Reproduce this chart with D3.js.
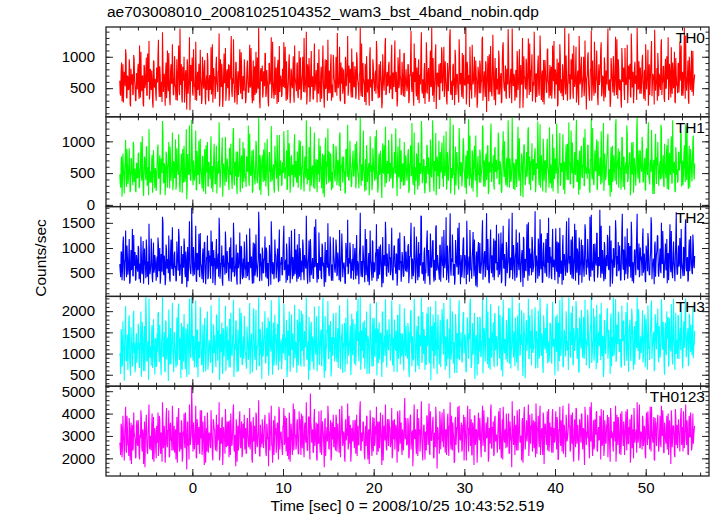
<!DOCTYPE html>
<html><head><meta charset="utf-8">
<script src="https://cdn.jsdelivr.net/npm/d3@7"></script>
<style>
html,body{margin:0;padding:0;background:#fff;}
text{font-family:"Liberation Sans",Arial,Helvetica,sans-serif;fill:#000;}
</style></head>
<body>
<svg id="chart" width="717" height="516"></svg>
<script>
const titleText = "ae703008010_20081025104352_wam3_bst_4band_nobin.qdp";
const xLabel = "Time [sec] 0 = 2008/10/25 10:43:52.519";
const yLabel = "Counts/sec";
const bandNames = ["TH0","TH1","TH2","TH3","TH0123"];
const bandColors = ["#ff0000","#00ff00","#0000ff","#00ffff","#ff00ff"];
const timeStart = -8, timeEnd = 55.4;
const xMajorTicks = [0,10,20,30,40,50];
const xMinorTicks = d3.range(-8, 57, 2);

const yDomains = [[44,1474],[-27,1386],[38,1823],[230,2348],[1210,5223]];
const yMajorTicks = [[500,1000],[0,500,1000],[500,1000,1500],[500,1000,1500,2000],[2000,3000,4000,5000]];
const yMinorTicks = [d3.range(100,1500,100), d3.range(0,1400,100), d3.range(100,1900,100), d3.range(300,2400,100), d3.range(1400,5300,200)];

// Each band: samples A (even bins) and B (odd bins), read as pairs in time order.
const th0A = [620,380,910,450,270,760,530,1020,340,680,480,850,210,590,720,410,960,520,300,640,
780,440,1180,350,560,690,250,870,500,730,390,1050,600,320,810,470,660,190,920,540,
410,830,590,1270,360,700,480,280,940,620,530,760,340,1100,450,650,230,880,570,720,
390,1010,510,640,300,790,450,1450,560,350,840,620,270,730,490,960,410,580,150,870,
660,430,1120,520,310,750,600,470,890,380,690,250,1000,540,820,360,610,470,930,290,
710,560,400,1200,480,650,330,870,590,440,780,210,960,520,680,370,1050,610,300,740,
500,880,420,640,1330,360,570,730,270,910,480,620,390,810,540,1070,330,690,460,760,
260,600,940,430,720,510,1140,380,660,300,850,570,420,990,490,700,180,820,610,350,
770,530,1060,410,640,290,890,560,720,340,1240,470,610,390,830,250,950,580,440,700,
360,810,520,670,1160,300,590,450,920,630,380,760,500,1010,270,680,540,860,410,620,
480,990,350,720,570,1300,430,650,240,880,510,740,390,1090,600,320,810,460,680,530,
900,410,620,280,840,560,1180,370,700,490,950,300,630,780,420,1040,540,350,870,610,
440,720,1380,500,640,330,910,570,410,800,260,1000,530,690,380,860,620,470,1130,350,
680,520,790,400,970,590,310,740,480,1210,360,650,540,890,230,760,600,430,1020,510,
640,300,870,560,720,410,1090,490,620,350,930,580,270,810,460,1170,390,700,530,860,
420,660,980,340,750,520,1260,440,600,310,840,570,700,390,920,480,1040,360,650,560,
530,870,310,690,1410,440,760,220,630,980,370,580,820,260,710,1090,480,640,340,900,
590,1230,410,750,280,860,520,1460,380,670,490,1020,170,740,560,880,320,610,1150,450,
700,360,930,550,240,800,640,1320,430,570,310,890,660,1110,390,720,500,270,960,610,
480,1060,330,680,540,1470,410,790,600,200,850,470,1190,560,720,350,940,620,280,760,
420,870,590,1280,300,660,510,930,120,710,580,1040,440,760,370,1350,520,640,230,820,
650,400,980,530,740,290,1170,610,450,860,330,700,1440,490,580,810,260,920,540,680,
380,760,1090,470,620,180,870,560,1300,410,690,520,970,340,750,600,1210,440,810,290,
600,1400,520,730,360,890,470,640,1060,310,780,550,240,950,620,430,1130,570,700,380,
840,490,670,1250,330,720,580,210,910,460,1020,610,370,790,530,1460,400,660,300,880,
570,320,960,640,450,1180,520,780,270,690,410,1330,560,840,350,620,1000,480,730,160,
690,1070,400,580,820,300,940,530,1240,420,660,750,230,880,610,1120,370,700,510,990,
350,780,560,1450,460,640,290,870,600,1010,380,720,540,1280,330,810,470,600,190,930,
620,470,1140,550,700,260,860,640,390,1370,510,760,430,920,580,310,1050,490,680,830,
410,940,600,330,790,1200,480,650,220,880,560,1020,370,730,640,1430,460,570,300,870,
730,540,1160,390,610,850,280,970,520,690,1310,440,780,350,600,910,500,1080,260,720,
560,890,430,1240,620,380,760,510,1460,330,680,590,940,250,820,470,1100,600,380,640];
const th0B = [410,760,290,880,530,640,1120,350,700,470,960,250,810,560,390,1030,610,300,740,480,
890,330,620,1080,450,700,210,830,560,990,380,670,1250,420,590,780,270,940,510,650,
300,710,1020,480,850,360,600,1390,440,730,220,910,520,680,1060,330,770,590,1200,400,
720,540,310,960,620,1180,390,560,880,270,650,1000,430,790,160,870,550,1310,470,610,
990,380,680,520,1240,300,760,610,410,1110,580,330,840,490,950,240,700,1060,360,630,
470,1150,560,270,820,690,400,1000,530,760,1370,340,610,890,200,720,580,1140,430,800,
610,300,870,1030,450,660,1280,380,520,910,240,770,600,1120,410,850,330,680,960,500,
350,820,590,440,1190,530,710,260,940,630,390,1080,490,560,1460,300,760,620,860,430,
680,1050,360,790,540,210,900,610,1310,450,620,330,1000,720,480,850,280,1170,580,640,
400,720,1230,500,660,930,320,580,1040,260,810,540,700,380,1180,610,450,910,340,1090,
850,310,640,1000,440,740,560,1400,390,620,980,280,830,520,690,340,1210,560,790,270,
560,1120,480,700,330,880,610,190,960,520,750,1270,420,640,880,300,560,1030,650,440,
1000,380,780,560,1160,290,690,830,500,610,250,940,720,1330,460,590,810,350,670,920,
520,850,330,1070,640,480,720,1460,370,560,900,610,280,790,1010,430,640,220,1150,590,
300,960,620,450,780,1250,520,340,880,600,730,180,1040,560,690,1300,410,760,560,920,
700,480,1190,330,650,900,560,760,210,990,500,1120,640,430,710,370,1060,520,800,450,
880,260,720,1010,540,680,380,1210,600,450,830,310,960,700,560,1390,410,620,770,250,
430,1000,600,820,350,1100,530,690,980,280,640,1200,470,740,520,320,900,580,1050,670,
1160,520,680,310,900,450,780,1440,390,620,850,540,230,990,610,720,400,1280,560,740,
360,790,1030,560,640,240,920,570,710,1160,480,330,860,620,1000,450,700,190,840,590,
940,420,610,1320,500,770,360,880,540,1010,290,650,1170,430,720,850,310,980,600,480,
620,1100,400,690,260,930,1230,510,630,380,810,560,1060,340,690,480,1450,540,730,300,
790,350,950,590,1120,430,570,820,190,1010,660,480,900,620,1290,390,560,760,1040,450,
540,890,270,730,640,1020,380,1340,500,680,280,950,570,760,430,1110,610,340,870,710,
330,1180,610,480,800,560,970,250,700,1200,420,640,880,310,750,540,1020,460,600,1370,
720,400,850,1050,330,690,580,1160,440,780,230,920,610,1000,490,710,370,1260,560,660,
1010,560,300,790,1420,470,640,380,930,600,1100,350,700,550,820,1230,420,680,290,880,
460,740,1080,520,610,200,980,660,430,850,570,1320,390,720,960,510,640,310,1140,600,
830,310,680,560,1190,470,740,890,350,1050,620,260,810,570,700,1460,480,930,410,650,
590,1030,440,760,300,900,630,1110,510,390,780,1250,560,680,240,970,600,820,1060,370,
680,470,1280,580,850,350,720,490,1010,640,310,890,540,1150,410,760,610,290,980,540,
420,900,610,740,1180,520,380,860,640,1340,460,700,320,1000,590,800,440,1090,560,720];

const th1A = [480,270,760,390,560,180,690,420,880,330,610,510,240,730,450,990,360,570,200,650,
430,820,310,600,470,1080,280,540,710,390,920,460,150,680,520,350,790,410,620,260,
540,360,870,450,620,160,730,500,1150,340,580,410,800,270,660,480,920,380,550,230,
690,420,1030,310,590,470,760,200,640,510,880,350,560,430,1190,290,620,480,730,380,
1340,500,700,380,560,240,850,470,1010,330,640,450,760,210,590,420,940,510,300,680,
520,840,260,610,440,960,330,700,180,570,490,820,370,650,1060,410,540,300,770,460,
620,350,900,470,560,250,1120,390,680,510,310,840,440,600,200,730,520,990,360,580,
410,760,540,1250,300,630,470,850,220,690,400,570,930,340,620,480,780,160,660,510,
870,380,590,450,1040,270,710,520,360,820,440,640,190,750,490,1100,330,600,460,700,
300,670,500,890,410,580,240,1180,450,620,370,780,520,280,950,430,690,350,560,800,
460,1000,330,640,510,210,760,420,870,560,390,680,1230,300,590,470,820,250,650,410,
710,490,360,930,540,620,180,780,450,1060,320,600,480,840,370,690,520,260,910,430,
560,820,400,670,290,1140,480,610,350,760,520,200,880,440,630,390,1010,540,310,720,
450,590,960,340,700,480,260,830,510,640,380,1170,420,570,230,780,490,660,360,890,
620,310,740,500,1080,400,560,190,690,470,850,350,620,520,940,280,710,440,580,1020,
370,660,480,820,290,600,510,1200,400,730,460,580,250,860,430,650,540,310,780,490,
520,880,230,640,450,1290,370,700,160,590,810,420,980,300,660,510,1120,390,720,250,
610,340,940,480,560,200,850,430,1330,370,690,530,150,760,460,1010,320,620,880,410,
280,730,520,1160,350,640,470,900,180,580,420,1260,500,710,310,830,560,240,970,450,
660,390,1050,540,270,780,620,410,1350,300,590,480,860,210,700,540,1090,360,640,470,
350,800,460,630,1200,280,560,740,390,920,170,680,510,1280,420,600,330,870,520,710,
590,1140,320,690,480,220,850,560,1000,400,640,280,1330,470,730,360,570,900,250,620,
440,700,530,1230,380,590,140,810,490,670,950,310,600,440,1170,520,760,230,640,400,
720,480,890,330,580,1310,420,650,270,780,510,1040,380,700,190,860,590,450,1220,340,
500,640,210,900,460,720,1280,370,570,810,300,660,520,1110,430,170,740,560,960,390,
680,330,1170,500,620,280,830,470,1340,360,590,710,240,880,460,620,1060,300,740,520,
410,940,570,190,700,480,1210,350,640,540,860,230,1000,450,680,320,770,580,1290,400,
620,460,810,1120,310,560,690,200,930,470,640,380,1350,520,720,270,840,600,430,1050,
280,750,540,670,1250,360,590,820,150,700,480,990,410,630,300,1180,520,690,380,860,
600,1070,350,560,740,230,890,470,1300,390,650,520,800,170,710,460,1120,330,620,540,
470,690,1260,410,580,310,960,530,720,250,1040,450,610,860,340,1330,500,680,200,790,
560,380,830,640,1150,290,700,480,940,360,610,1220,430,760,270,880,520,650,1090,400];
const th1B = [350,690,130,810,470,580,1020,280,640,390,890,200,730,500,310,950,540,220,660,420,
800,260,550,990,380,620,140,760,480,910,300,590,1190,350,520,700,190,860,440,580,
220,640,950,410,780,290,530,1320,370,660,150,840,450,610,990,260,700,520,1140,330,
650,470,240,890,550,1110,320,490,810,190,580,930,360,720,90,800,480,1250,400,540,
920,310,610,450,1170,230,690,540,340,1040,510,260,770,420,880,170,630,990,290,560,
400,1080,490,200,750,620,330,930,460,690,1300,270,540,820,130,650,510,1070,360,730,
540,230,800,960,380,590,1210,310,450,840,170,700,530,1050,340,780,260,610,890,430,
280,750,520,370,1120,460,640,190,870,560,320,1010,420,490,1370,230,690,550,790,360,
610,980,290,720,470,140,830,540,1240,380,550,260,930,650,410,780,210,1100,510,570,
330,650,1160,430,590,860,250,510,970,190,740,470,630,310,1110,540,380,840,270,1020,
780,240,570,930,370,670,490,1330,320,550,910,210,760,450,620,270,1140,490,720,200,
490,1050,410,630,260,810,540,120,890,450,680,1200,350,570,810,230,490,960,580,370,
930,310,710,490,1090,220,620,760,430,540,180,870,650,1260,390,520,740,280,600,850,
450,780,260,1000,570,410,650,1380,300,490,830,540,210,720,940,360,570,150,1080,520,
230,890,550,380,710,1180,450,270,810,530,660,110,970,490,620,1230,340,690,490,850,
630,410,1120,260,580,830,490,690,140,920,430,1050,570,360,640,300,990,450,730,380,
810,190,650,940,470,610,310,1140,530,380,760,240,890,630,490,1320,340,550,700,180,
360,930,530,750,280,1030,460,620,910,210,570,1130,400,670,450,250,830,510,980,600,
1090,450,610,240,830,380,710,1370,320,550,780,470,160,920,540,650,330,1210,490,670,
290,720,960,490,570,170,850,500,640,1090,410,260,790,550,930,380,630,120,770,520,
870,350,540,1250,430,700,290,810,470,940,220,580,1100,360,650,780,240,910,530,410,
550,1030,330,620,190,860,1160,440,560,310,740,490,990,270,620,410,1380,470,660,230,
720,280,880,520,1050,360,500,750,120,940,590,410,830,550,1220,320,490,690,970,380,
470,820,200,660,570,950,310,1270,430,610,210,880,500,690,360,1040,540,270,800,640,
260,1110,540,410,730,490,900,180,630,1130,350,570,810,240,680,470,950,390,530,1300,
650,330,780,980,260,620,510,1090,370,710,160,850,540,930,420,640,300,1190,490,590,
940,490,230,720,1350,400,570,310,860,530,1030,280,630,480,750,1160,350,610,220,810,
390,670,1010,450,540,130,910,590,360,780,500,1250,320,650,890,440,570,240,1070,530,
760,240,610,490,1120,400,670,820,280,980,550,190,740,500,630,1380,410,860,340,580,
520,960,370,690,230,830,560,1040,440,320,710,1180,490,610,170,900,530,750,990,300,
610,400,1210,510,780,280,650,420,940,570,240,820,470,1080,340,690,540,220,910,470,
350,830,540,670,1110,450,310,790,570,1270,390,630,250,930,520,730,370,1020,490,650];

const th2A = [680,420,910,560,1230,350,740,610,1050,470,830,290,700,560,1380,440,650,920,380,760,
530,1000,620,310,870,480,1140,590,720,400,960,650,270,800,540,1190,430,690,510,860,
560,710,420,1060,600,290,880,530,1510,460,720,380,970,620,500,820,330,1170,580,690,
450,930,640,360,810,550,1220,470,700,290,880,610,1040,420,760,530,340,990,660,480,
1800,600,1020,470,740,350,900,560,1280,420,680,530,830,310,1100,640,490,780,380,950,
850,390,720,1130,500,640,260,910,580,760,430,1320,550,680,350,840,620,470,1080,540,
700,420,980,590,330,810,520,1150,460,690,380,900,600,750,280,1040,540,660,410,870,
580,1270,440,720,360,950,610,500,830,300,1090,570,690,420,780,1410,480,640,350,920,
510,760,620,1010,390,700,560,860,270,1160,480,650,530,900,400,740,610,1030,340,680,
820,470,1200,560,690,310,930,600,450,800,540,1350,380,710,620,480,970,330,760,590,
430,880,650,520,1060,360,740,590,900,290,820,510,1180,460,680,400,850,620,1570,520,
700,380,910,560,430,1090,640,500,780,320,960,610,720,440,1230,530,670,350,880,590,
640,1020,470,730,360,850,560,1290,420,690,590,310,940,630,480,800,1110,400,710,550,
370,820,610,960,450,700,280,1040,580,740,420,880,530,1380,460,650,330,900,600,760,
520,1150,410,690,570,830,340,980,620,470,1070,550,720,300,860,640,1260,430,680,510,
790,460,940,580,360,1030,620,490,870,410,1190,560,700,330,920,600,450,1080,540,690,
630,1080,470,820,1500,380,700,560,960,300,1230,610,740,420,890,1640,510,680,350,1010,
580,830,1350,440,690,270,980,620,1140,470,760,360,1450,590,710,500,1060,330,850,640,
410,920,700,1610,520,650,310,1090,580,790,1270,450,680,390,960,620,1400,500,730,280,
750,540,1170,400,860,620,1540,470,690,330,1000,570,810,1320,440,660,250,930,610,1120,
500,780,630,1250,370,720,940,480,1690,560,690,300,1030,620,850,420,1190,540,710,1460,
680,420,990,570,1310,360,760,610,880,240,1120,500,730,1580,450,640,930,380,1060,590,
820,1370,460,690,560,1000,320,860,640,1220,410,780,540,1470,350,710,990,600,460,1150,
590,880,1730,480,650,390,1040,560,760,1290,310,920,640,500,1180,430,820,1600,550,700,
440,1010,620,770,360,1390,530,690,1110,420,860,580,270,1260,640,740,450,1530,510,930,
690,560,1170,400,820,640,1480,350,720,990,540,1210,460,680,310,1060,590,800,1350,470,
610,930,500,1620,430,760,580,1080,330,870,650,1300,520,710,1760,410,640,960,480,1120,
380,800,640,1190,560,1440,470,700,290,990,610,850,1330,440,680,540,1050,360,780,1680,
570,720,1230,480,880,390,1100,630,760,1520,340,690,560,970,460,1280,600,740,420,1010,
830,450,1390,600,700,320,940,540,1160,470,790,1610,380,660,580,1050,430,870,1250,510,
620,990,500,760,1340,410,680,1090,560,300,900,650,1470,520,720,400,1130,590,830,1710,
470,860,630,1200,390,740,560,1020,450,1400,610,780,330,950,540,1240,680,480,1070,600];
const th2B = [540,930,360,1080,620,750,1350,420,810,560,1180,330,960,640,450,1260,700,350,860,590,
1040,380,690,1230,510,800,290,990,660,1170,430,730,1480,480,650,900,320,1110,570,760,
350,830,1210,540,1000,420,690,1620,500,850,260,1070,590,780,1250,380,920,660,1410,470,
860,610,340,1130,720,1380,450,640,1040,300,750,1190,500,930,220,1020,620,1530,550,700,
1180,440,790,600,1440,330,880,700,470,1300,660,380,990,560,1120,280,820,1250,420,730,
540,1350,640,300,960,800,460,1180,610,890,1600,390,700,1050,250,850,670,1330,500,940,
710,340,1020,1210,520,760,1500,430,600,1070,270,900,690,1310,480,1000,380,790,1130,580,
400,960,680,510,1390,610,830,290,1110,730,450,1270,560,650,1720,340,890,720,1010,500,
790,1230,420,920,620,240,1060,710,1530,520,720,380,1170,840,560,990,320,1370,670,740,
460,840,1440,580,770,1090,360,670,1220,300,950,630,820,440,1380,710,520,1070,390,1280,
1000,360,750,1170,510,860,650,1640,450,720,1150,320,970,600,800,390,1420,650,920,310,
650,1310,560,820,380,1030,710,230,1120,600,880,1490,480,740,1030,350,650,1210,760,510,
1170,440,910,650,1360,330,800,970,580,710,290,1100,840,1560,530,690,950,400,780,1080,
600,1000,380,1260,740,560,840,1700,430,650,1050,710,320,920,1180,500,740,260,1350,690,
350,1120,720,520,910,1470,600,390,1030,700,850,220,1220,650,800,1520,480,890,650,1080,
820,560,1400,380,760,1050,650,890,250,1160,580,1310,740,500,830,430,1240,610,930,520,
1030,300,840,1180,630,790,440,1420,700,520,970,360,1120,820,650,1630,480,720,900,290,
500,1170,700,960,410,1290,620,810,1150,330,750,1410,550,860,600,370,1050,680,1230,780,
1360,600,790,360,1050,520,910,1690,450,720,990,630,270,1160,710,840,470,1500,650,860,
420,920,1210,650,750,280,1080,660,830,1360,560,390,1000,720,1170,520,820,220,980,690,
1100,490,710,1550,580,900,420,1030,630,1180,340,760,1370,500,840,990,360,1150,700,560,
720,1290,470,800,300,1090,1440,590,740,440,950,650,1240,400,810,560,1700,630,850,350,
920,410,1110,690,1310,500,660,960,230,1180,770,560,1050,720,1510,450,650,890,1220,520,
630,1040,310,850,750,1190,440,1570,580,790,330,1110,660,890,500,1300,710,400,1020,830,
380,1380,710,560,940,650,1130,290,820,1400,490,750,1030,360,880,630,1190,540,700,1600,
840,470,990,1230,380,810,680,1360,510,910,270,1070,710,1170,570,830,430,1470,650,770,
1180,650,350,920,1660,550,750,440,1090,700,1290,410,820,640,960,1440,490,790,340,1030,
540,860,1260,610,710,230,1150,770,500,990,670,1550,450,840,1120,590,750,360,1330,700,
970,360,790,650,1390,550,860,1040,410,1230,720,300,950,670,820,1680,560,1090,480,760,
690,1200,510,890,350,1050,740,1300,600,460,910,1460,650,790,280,1130,700,960,1240,430,
800,550,1500,680,990,410,840,570,1180,750,360,1040,630,1340,480,890,710,340,1150,630,
490,1050,710,870,1380,610,440,1000,750,1570,540,820,370,1170,690,940,510,1270,650,840];

const th3A = [950,520,1420,750,1180,360,1630,840,1060,620,1790,900,480,1270,690,1900,1000,560,1350,780,
1110,1590,660,1220,450,1750,930,1320,580,2340,810,1160,380,1480,1020,720,1670,870,1240,500,
1360,690,1040,1980,800,1230,490,1510,920,1150,600,1780,860,1330,350,1620,990,740,1280,1070,
560,1490,880,1200,720,2040,950,1370,420,1100,1640,810,1250,630,1530,980,1360,500,1750,890,
2330,980,1400,670,1190,820,1560,440,1280,950,1850,730,1130,560,1440,1010,790,1710,620,1090,
1180,780,1420,540,1690,1010,1240,680,1890,830,1150,370,1460,1040,760,1600,930,1290,590,1520,
840,1310,1820,670,1130,950,1500,450,1220,1760,890,1080,580,1410,1030,1960,740,1170,880,1550,
1000,640,1380,850,1680,520,1260,1100,800,2070,940,1350,610,1190,1440,730,1580,970,400,1320,
1150,1590,780,1260,930,1850,660,1200,1050,1480,500,1730,880,1280,720,1420,1090,2350,810,1180,
630,1370,1000,1650,840,1160,440,1540,950,1310,760,1920,1080,670,1430,890,1250,550,1700,990,
1270,820,2010,1060,1410,690,1190,1580,860,1140,380,1490,1020,1750,810,1280,620,1360,970,1880,
900,1440,730,1220,1570,930,2320,780,1310,590,1160,1490,870,1680,1040,460,1390,950,1240,820,
1530,990,1320,660,1810,1100,880,1460,540,1250,1720,910,1180,750,1610,1030,1370,490,1940,960,
1110,760,1500,980,1340,2300,820,1190,620,1550,1070,890,1780,960,1270,520,1420,1140,810,1660,
1040,1380,700,1830,920,1250,480,1590,1100,860,1490,1010,1970,790,1220,950,1630,670,1360,1070,
1400,830,1280,1740,980,570,1510,1060,1190,1890,870,1320,740,1480,1010,1250,600,1680,940,1170,
880,1560,440,1250,2030,700,1120,910,1700,560,1370,1030,1870,630,1200,1460,780,1980,990,1300,
1420,730,1170,2100,850,1280,370,1650,1060,800,1740,950,1380,510,1920,1090,1440,680,1230,1810,
970,1520,620,1330,1790,860,1160,420,1580,1040,2000,760,1270,930,1630,540,1400,1890,840,1180,
1260,790,1940,1000,1450,580,1120,1720,880,1340,2300,660,1210,970,1520,400,1380,1080,1860,750,
1050,1800,920,1290,530,1600,1110,1440,2350,750,1160,1350,620,1730,970,1260,830,1950,1070,1410,
700,1480,1140,1910,870,1300,460,1670,1010,1220,1790,790,1430,1090,2080,650,1190,1540,910,1360,
1850,1030,1270,600,1620,950,1450,2020,800,1180,1510,420,1740,1060,1330,880,1900,1120,720,1580,
1110,1420,2090,840,1260,660,1560,1020,1810,940,1380,540,1660,1100,1470,2000,770,1210,990,1710,
890,1630,1160,1350,490,1880,1040,1280,1730,820,1520,1090,2340,680,1240,1400,930,1800,1150,610,
1500,980,1960,1200,760,1600,1060,1390,2040,870,1290,560,1750,1120,1430,900,1870,1030,1310,720,
1180,1830,910,1460,1720,780,1260,2070,1000,1370,630,1640,1110,1520,1940,850,1190,1420,450,1790,
1070,1340,2000,880,1560,1150,1790,700,1280,2330,960,1410,800,1680,1220,1900,1040,1330,670,1510,
1740,950,1430,1980,830,1270,570,1650,1090,1390,1880,920,1500,740,1760,1130,1360,2050,860,1220,
1010,1580,790,1320,1920,1050,1460,620,1700,1180,1390,2110,870,1270,1520,680,1840,1100,1430,940,
1650,900,1240,1990,1090,1390,500,1730,960,1500,1860,830,1300,1050,1690,740,2290,1170,1380,990,
1320,1910,870,1440,1080,1760,650,1540,1130,2070,910,1360,1600,780,1820,1040,1260,1500,890,1190];
const th3B = [1010,1580,690,1760,1120,1330,2120,820,1450,1040,1900,640,1620,1180,880,2010,1260,700,1480,1070,
1700,760,1240,1990,950,1420,590,1650,1190,1880,840,1300,2300,900,1170,1540,660,1810,1040,1350,
700,1470,1950,1000,1680,800,1250,2330,930,1500,560,1750,1080,1380,2040,740,1600,1190,2200,880,
1500,1120,670,1850,1290,2180,850,1160,1720,620,1340,1930,920,1590,450,1700,1130,2290,1010,1260,
1920,830,1410,1100,2250,680,1560,1270,890,2100,1190,740,1680,1020,1840,580,1450,1990,790,1320,
990,2140,1170,610,1610,1430,860,1920,1110,1540,2320,780,1250,1730,520,1500,1200,2130,940,1640,
1290,680,1700,1960,970,1370,2270,820,1080,1780,560,1560,1240,2080,900,1680,740,1400,1890,1060,
770,1640,1210,940,2190,1110,1470,560,1830,1300,850,2030,1020,1170,2330,700,1540,1290,1750,930,
1380,2000,780,1610,1100,480,1760,1260,2260,940,1280,720,1920,1450,1010,1700,610,2090,1210,1330,
860,1460,2170,1050,1380,1790,660,1190,1990,570,1620,1130,1470,820,2150,1280,960,1800,720,2050,
1750,690,1330,1940,960,1530,1150,2320,870,1290,1860,600,1650,1080,1400,750,2110,1160,1640,580,
1170,2120,1010,1480,700,1720,1280,430,1880,1090,1560,2240,890,1330,1770,660,1200,1950,1380,930,
1960,800,1600,1180,2140,630,1410,1700,1050,1280,570,1850,1490,2300,950,1240,1660,760,1370,1810,
1090,1700,720,2000,1300,1020,1500,2340,820,1190,1740,1270,640,1610,1990,930,1350,520,2180,1240,
690,1840,1280,960,1590,2210,1100,770,1740,1250,1480,450,1990,1160,1420,2280,880,1560,1180,1810,
1450,1030,2250,720,1370,1800,1160,1540,560,1910,1060,2160,1320,930,1470,810,2070,1120,1650,990,
1720,590,1500,1970,1150,1410,840,2290,1250,960,1650,710,1870,1440,1170,2320,850,1300,1580,610,
930,1950,1260,1660,770,2110,1120,1420,1920,640,1310,2240,1040,1500,1130,740,1790,1230,2050,1380,
2190,1110,1400,700,1810,1000,1590,2310,860,1290,1690,1150,540,1930,1270,1480,880,2260,1180,1500,
820,1610,1980,1190,1330,560,1850,1210,1470,2180,1040,750,1720,1280,1960,970,1440,480,1700,1240,
1870,940,1300,2280,1090,1580,810,1760,1180,1990,660,1360,2160,900,1500,1740,680,1920,1270,1050,
1290,2130,880,1420,600,1870,2270,1100,1340,860,1640,1210,2070,760,1460,1030,2330,1150,1520,700,
1610,790,1890,1230,2200,980,1200,1660,470,1960,1380,1050,1790,1310,2290,870,1160,1540,2050,1020,
1130,1750,650,1530,1350,2010,880,2310,1170,1480,690,1900,1210,1600,1010,2180,1290,800,1720,1490,
760,2220,1290,1060,1640,1190,1920,580,1480,2260,940,1330,1800,700,1560,1150,2000,1070,1300,2320,
1510,900,1740,2120,720,1420,1240,2240,1000,1600,560,1850,1290,2030,1080,1470,870,2270,1200,1350,
2040,1200,650,1590,2340,960,1330,830,1880,1280,2150,780,1470,1170,1660,2200,940,1390,640,1760,
990,1540,2070,1100,1270,520,1950,1390,930,1700,1210,2280,870,1510,1990,1080,1330,690,2130,1290,
1780,710,1430,1170,2210,1010,1560,1800,820,2060,1320,620,1650,1220,1480,2330,1060,1870,900,1410,
1250,2020,910,1580,680,1820,1370,2140,1110,850,1600,2250,1190,1440,580,1930,1290,1720,2060,790,
1430,1020,2280,1240,1750,760,1520,1050,2000,1350,690,1830,1130,2170,880,1590,1300,620,1960,1180,
880,1860,1300,1610,2190,1130,820,1760,1360,2300,1000,1470,700,1940,1250,1680,960,2080,1220,1540];

const th0123A = [2700,2150,3400,2500,3050,1900,3600,2380,3900,2600,2100,3300,2750,1750,3500,2450,3150,2850,2050,3700,
2550,3250,1950,2900,3850,2300,3100,2650,1600,3450,2800,2200,3650,2500,3000,2350,4000,2700,1850,3350,
2400,3450,2700,2100,3900,2550,3150,1850,3600,2650,2950,2300,4250,2500,3250,2050,3500,2800,2350,3700,
2950,2250,3300,2750,1800,3850,2600,3150,2400,3550,2050,3000,2700,4050,2350,3200,2550,1950,3650,2850,
5200,2900,3600,2400,3200,2050,3750,2600,3400,2200,2950,4150,2450,3100,1700,3550,2750,2300,3300,2850,
3100,2450,3400,2150,3750,3300,2600,3050,2300,3500,2800,1900,3350,2650,3850,2400,3100,2200,3600,2750,
2550,3650,2900,2150,3300,2650,4100,2450,3050,1650,3450,2800,2350,3750,2600,3200,2050,3550,2900,2400,
3350,2250,3800,2700,3100,2400,3650,1950,3000,2750,3450,2200,3900,2500,3250,2850,2100,2500,2650,3150,
2450,3600,2800,2100,3350,2950,4050,2350,3200,2600,1800,3700,2700,3050,2250,3500,2850,4300,2400,3150,
2700,2150,3450,2600,3900,2300,3100,2800,1950,3650,2500,3250,2150,4450,2650,3000,2400,3550,2850,2200,
3300,2750,4000,2450,3150,2050,3600,2700,3050,2350,3850,2600,4900,3400,2900,2300,3750,2550,3200,2000,
3550,2650,2950,2250,4150,2800,3300,2450,3700,2100,3050,2750,3950,2400,3250,1900,3600,2850,2500,3400,
2350,3800,2700,3100,2250,3500,2900,4350,2550,3200,2050,3650,2800,3000,2400,3900,2650,1850,3350,2750,
3050,2450,3700,2850,2100,3450,2600,4200,2350,3150,2750,3600,2200,3000,2550,3850,1950,3300,2700,3550,
2600,3250,2300,3800,2750,3050,2150,3650,2900,2450,4050,2650,3200,1900,3450,2800,3100,2350,3750,2550,
3400,2500,3100,2000,3700,2850,2400,3500,2700,4100,2300,3250,2650,3600,2150,3050,2800,4700,3800,2600,
2650,3500,2100,3850,2400,3150,1650,3700,2850,3300,2200,4200,2550,3050,2300,3600,2950,1900,3450,2700,
3200,2350,3900,2600,4450,2150,3350,2800,3650,2050,3100,2500,3800,1550,3250,2900,4100,2400,3550,2750,
2500,3750,2250,3300,2850,4000,2100,3450,2650,3900,2350,3150,1800,3700,2600,3400,4300,2250,3000,2800,
3600,2400,3150,1900,3850,2700,3300,4350,2300,3050,2550,3750,2150,3450,1700,3900,2850,3250,2450,4050,
2800,3400,2050,3650,2550,4150,2300,3100,2900,3700,1850,3350,2650,4400,2450,3200,2100,3800,2750,3050,
2250,3550,2950,4250,2400,3050,1950,3750,2700,3300,4000,2500,3150,2200,3650,2850,1600,3500,2600,3900,
3100,2650,4150,2350,3450,2800,3000,1900,3800,2550,4300,2400,3250,2750,3600,2100,3950,2650,3350,2300,
3700,2450,3100,4450,2200,3400,2900,3800,2150,3250,2600,4050,1750,3550,2950,3150,2350,4200,2700,3000,
2600,3850,2250,3350,2800,4100,2400,3600,1950,3200,2750,3700,2300,4350,2650,3100,2050,3650,2900,3400,
3450,2300,3950,2650,3150,1850,3750,2500,4200,2850,3050,2250,3550,2700,4000,2400,3300,1700,3800,2600,
2900,3600,2400,4300,2750,3200,2100,3700,2550,3400,4050,2350,3150,2800,3900,1950,3500,2650,4150,2450,
3250,2700,3550,2050,3850,2500,4250,2900,3100,2300,3650,2750,1850,3950,2600,3400,2200,4000,2800,3300,
2550,3450,2950,4100,2350,3700,2650,3050,1800,3850,2450,3300,4250,2700,3150,2250,3600,2900,4400,2500,
3150,2400,3750,2850,3300,2000,4050,2600,3500,2950,4300,2300,3200,2700,3850,1900,3450,2550,3650,2800,
2700,3900,2500,3350,4150,2250,3600,2850,3050,2400,4000,2650,3300,1750,3750,2900,3450,2150,4200,2600,
3500,2750,3150,2300,3950,2600,3400,4100,2450,3250,2850,3700,2200,3550,2950,4050,2350,3100,2650,3300];
const th0123B = [2500,3550,2050,3900,2750,3150,4300,2250,3350,2600,3800,1900,3600,2800,2350,4050,3000,2000,3450,2650,
3700,2150,3050,4150,2450,3300,1750,3650,2900,3950,2300,3100,4400,2400,2950,3450,1950,3850,2700,3150,
2000,3400,4050,2550,3700,2200,3100,4500,2450,3450,1800,3800,2650,3250,4150,2100,3600,2900,4350,2350,
3450,2800,1950,3850,3050,4250,2300,2950,3700,1850,3200,4000,2450,3550,1500,3650,2850,4400,2600,3100,
4000,2300,3250,2750,4350,2000,3500,3050,2400,4150,2900,2150,3650,2600,3900,1800,3350,4050,2250,3150,
2550,4150,2900,1900,3600,3300,2350,3950,2750,3450,4500,2150,3100,3700,1700,3400,2950,4200,2500,3650,
3200,2050,3700,4000,2550,3150,4400,2300,2800,3750,1850,3450,3000,4100,2450,3650,2200,3300,3950,2700,
2200,3600,3000,2500,4250,2800,3350,1800,3850,3150,2400,4050,2650,2900,4600,2100,3500,3100,3750,2550,
3300,3950,2250,3550,2850,1650,3700,3100,4350,2500,3100,2150,3900,3350,2550,3600,1950,4150,2900,3200,
2400,3450,4250,2700,3250,3800,2100,2950,4050,1850,3550,2800,3300,2350,4200,3050,2600,3750,2200,4100,
3750,2150,3150,3900,2500,3450,2900,4500,2350,3100,3850,1950,3600,2700,3300,2250,4200,2800,3600,1900,
2800,4100,2600,3350,2150,3650,3050,1600,3800,2750,3400,4350,2450,3150,3700,2100,2900,3950,3250,2500,
3950,2300,3550,2850,4200,2050,3250,3600,2700,3100,1850,3750,3350,4450,2550,2950,3500,2250,3200,3700,
2750,3700,2200,3950,3100,2600,3300,4550,2350,2900,3650,3050,1950,3450,3900,2500,3150,1750,4150,3000,
2100,3850,3050,2550,3450,4300,2800,2300,3650,3000,3300,1700,3950,2800,3200,4400,2450,3500,2900,3750,
3350,2650,4250,2200,3150,3750,2900,3400,1800,3900,2700,4150,3200,2500,3300,2350,4050,2850,3600,2600,
3800,2000,3400,3950,2750,3250,2350,4400,3000,2500,3550,2100,3800,3300,2800,4550,2400,3050,3500,1950,
2450,3900,3050,3550,2250,4100,2800,3200,3850,2000,3150,4300,2650,3400,2850,2200,3700,2950,4050,3250,
4200,2850,3250,2150,3750,2600,3450,4500,2400,3100,3600,2900,1850,3850,3000,3300,2450,4350,2850,3350,
2300,3500,3950,2900,3200,1900,3700,2950,3350,4200,2700,2150,3600,3050,3900,2600,3300,1800,3550,3000,
3800,2500,3150,4350,2800,3500,2300,3600,2950,3850,2050,3250,4150,2450,3400,3650,2200,3900,3050,2700,
3100,4100,2400,3300,2000,3750,4300,2850,3200,2450,3550,3000,4000,2250,3350,2750,4550,2950,3400,2150,
3500,2350,3800,3050,4200,2700,3000,3600,1800,3900,3200,2800,3700,3100,4400,2550,2950,3450,4000,2700,
2950,3650,2050,3450,3250,3900,2500,4350,2900,3350,2150,3800,3000,3500,2600,4100,3150,2300,3600,3400,
2250,4200,3150,2700,3550,2950,3850,1950,3300,4300,2550,3150,3750,2200,3500,2900,3950,2750,3100,4450,
3450,2450,3650,4050,2150,3300,3000,4250,2650,3500,1900,3750,3100,3950,2800,3350,2450,4300,2950,3200,
3950,2900,2000,3550,4500,2600,3150,2400,3750,3050,4100,2300,3400,2850,3600,4200,2550,3250,2100,3700,
2650,3450,3950,2800,3150,1850,3800,3200,2550,3600,3000,4350,2450,3350,3850,2750,3150,2150,4100,3050,
3650,2150,3300,2950,4200,2650,3400,3750,2350,3950,3150,2000,3550,2950,3300,4500,2700,3800,2450,3200,
3000,3900,2550,3450,2150,3700,3250,4100,2850,2400,3500,4300,2950,3250,1950,3800,3050,3550,3950,2300,
3250,2700,4350,3000,3650,2250,3400,2650,3900,3150,2150,3700,2800,4150,2500,3450,3100,2050,3850,2900,
2450,3750,3100,3400,4250,2850,2300,3600,3150,4400,2600,3300,2150,3900,2950,3550,2500,4000,3000,3450];

const interleave = (a, b) => d3.merge(d3.zip(a, b));
const seriesValues = [interleave(th0A, th0B), interleave(th1A, th1B), interleave(th2A, th2B),
                      interleave(th3A, th3B), interleave(th0123A, th0123B)];

// ---- layout ----
const svg = d3.select("#chart");
const plotLeft = 106, plotRight = 709, plotTop = 27, plotBottom = 476;
const nPanels = seriesValues.length;
const ph = (plotBottom - plotTop) / nPanels;

const x = d3.scaleLinear().domain([-9.52, 56.98]).range([plotLeft, plotRight]);
const fontSize = 15;
const fontFam = '"Liberation Sans",Arial,sans-serif';

seriesValues.forEach((vals, p) => {
  const y0 = plotTop + p * ph, y1 = y0 + ph;
  const y = d3.scaleLinear().domain(yDomains[p]).range([y1, y0]);
  const n = vals.length;
  const tOf = i => timeStart + i * (timeEnd - timeStart) / (n - 1);

  const clipId = "clip" + p;
  svg.append("clipPath").attr("id", clipId)
    .append("rect").attr("x", plotLeft).attr("y", y0).attr("width", plotRight - plotLeft).attr("height", ph);

  const line = d3.line().x((d, i) => x(tOf(i))).y(d => y(d));
  svg.append("path").datum(vals)
    .attr("clip-path", `url(#${clipId})`)
    .attr("fill", "none")
    .attr("stroke", bandColors[p])
    .attr("stroke-width", 1.1)
    .attr("stroke-linejoin", "bevel")
    .attr("d", line);

  const strip = g => g.select(".domain").remove();
  const tickStyle = g => g.selectAll(".tick line").attr("stroke", "#222").attr("stroke-width", 1);

  svg.append("g").attr("transform", `translate(${plotLeft},0)`)
    .call(d3.axisLeft(y).tickValues(yMinorTicks[p]).tickSize(-3.5).tickFormat(""))
    .call(strip).call(tickStyle);
  const gl = svg.append("g").attr("transform", `translate(${plotLeft},0)`)
    .call(d3.axisLeft(y).tickValues(yMajorTicks[p]).tickSize(-7).tickPadding(11).tickFormat(d3.format("d")))
    .call(strip).call(tickStyle);
  gl.selectAll(".tick text").attr("font-size", fontSize).attr("font-family", fontFam).attr("fill", "#000");

  svg.append("g").attr("transform", `translate(${plotRight},0)`)
    .call(d3.axisRight(y).tickValues(yMinorTicks[p]).tickSize(-3.5).tickFormat(""))
    .call(strip).call(tickStyle);
  svg.append("g").attr("transform", `translate(${plotRight},0)`)
    .call(d3.axisRight(y).tickValues(yMajorTicks[p]).tickSize(-7).tickFormat(""))
    .call(strip).call(tickStyle);

  svg.append("g").attr("transform", `translate(0,${y0})`)
    .call(d3.axisTop(x).tickValues(xMinorTicks).tickSize(-3.5).tickFormat(""))
    .call(strip).call(tickStyle);
  svg.append("g").attr("transform", `translate(0,${y0})`)
    .call(d3.axisTop(x).tickValues(xMajorTicks).tickSize(-7).tickFormat(""))
    .call(strip).call(tickStyle);
  svg.append("g").attr("transform", `translate(0,${y1})`)
    .call(d3.axisBottom(x).tickValues(xMinorTicks).tickSize(-3.5).tickFormat(""))
    .call(strip).call(tickStyle);
  const gb = svg.append("g").attr("transform", `translate(0,${y1})`)
    .call(d3.axisBottom(x).tickValues(xMajorTicks).tickSize(-7).tickPadding(6)
      .tickFormat(p === nPanels - 1 ? d3.format("d") : ""))
    .call(strip).call(tickStyle);
  gb.selectAll(".tick text").attr("font-size", fontSize).attr("font-family", fontFam).attr("fill", "#000");

  svg.append("rect").attr("x", plotLeft).attr("y", y0).attr("width", plotRight - plotLeft).attr("height", ph)
    .attr("fill", "none").attr("stroke", "#222").attr("stroke-width", 1.3);

  svg.append("text").attr("x", plotRight - 4).attr("y", y0 + 16)
    .attr("text-anchor", "end").attr("font-size", fontSize + 0.5)
    .text(bandNames[p]);
});

svg.append("text").attr("x", plotLeft + 1).attr("y", 17)
  .attr("font-size", 15.5).text(titleText);

svg.append("text").attr("x", (plotLeft + plotRight) / 2).attr("y", 511)
  .attr("text-anchor", "middle").attr("font-size", fontSize + 0.5).text(xLabel);

svg.append("text").attr("transform", `translate(46,258) rotate(-90)`)
  .attr("text-anchor", "middle").attr("font-size", fontSize + 0.5).text(yLabel);
</script>
</body></html>
